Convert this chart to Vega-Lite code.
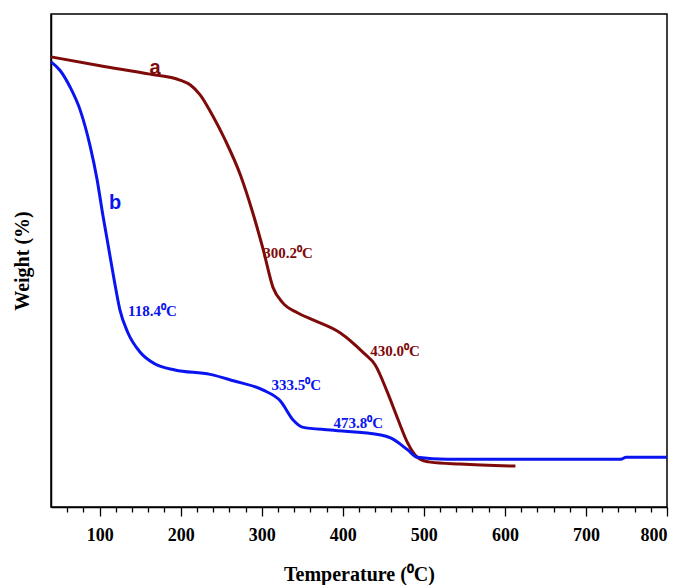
{
  "$schema": "https://vega.github.io/schema/vega-lite/v6.json",
  "width": 616,
  "height": 493,
  "autosize": "none",
  "padding": {"left": 51, "top": 14, "right": 17, "bottom": 78},
  "background": "white",
  "config": {
    "view": {"stroke": "black", "strokeWidth": 1.5},
    "axis": {"grid": false}
  },
  "datasets": {
    "curves": [
      {"series": "a", "T": 40, "w": 91.3},
      {"series": "a", "T": 100.6, "w": 89.5},
      {"series": "a", "T": 162, "w": 87.8},
      {"series": "a", "T": 199, "w": 86.6},
      {"series": "a", "T": 212, "w": 85.6},
      {"series": "a", "T": 224, "w": 83.6},
      {"series": "a", "T": 239, "w": 79.5},
      {"series": "a", "T": 255, "w": 74.4},
      {"series": "a", "T": 274, "w": 67.2},
      {"series": "a", "T": 288, "w": 60.2},
      {"series": "a", "T": 302, "w": 52.1},
      {"series": "a", "T": 314, "w": 44.5},
      {"series": "a", "T": 326, "w": 41.4},
      {"series": "a", "T": 344, "w": 39.4},
      {"series": "a", "T": 364, "w": 37.9},
      {"series": "a", "T": 397, "w": 35.3},
      {"series": "a", "T": 426, "w": 31.2},
      {"series": "a", "T": 440, "w": 28.8},
      {"series": "a", "T": 455, "w": 23.3},
      {"series": "a", "T": 468, "w": 17.8},
      {"series": "a", "T": 480, "w": 13.0},
      {"series": "a", "T": 492, "w": 10.1},
      {"series": "a", "T": 508, "w": 9.1},
      {"series": "a", "T": 545, "w": 8.7},
      {"series": "a", "T": 613, "w": 8.3},
      {"series": "b", "T": 40, "w": 90.3},
      {"series": "b", "T": 51, "w": 88.6},
      {"series": "b", "T": 63.5, "w": 85.2},
      {"series": "b", "T": 76, "w": 80.5},
      {"series": "b", "T": 88, "w": 73.4},
      {"series": "b", "T": 97, "w": 66.3},
      {"series": "b", "T": 104, "w": 59.2},
      {"series": "b", "T": 110.5, "w": 53.1},
      {"series": "b", "T": 118, "w": 46.0},
      {"series": "b", "T": 125, "w": 40.0},
      {"series": "b", "T": 135, "w": 35.3},
      {"series": "b", "T": 150, "w": 31.4},
      {"series": "b", "T": 168.5, "w": 29.0},
      {"series": "b", "T": 193, "w": 27.8},
      {"series": "b", "T": 236.5, "w": 26.9},
      {"series": "b", "T": 265, "w": 25.6},
      {"series": "b", "T": 302, "w": 23.7},
      {"series": "b", "T": 323, "w": 21.5},
      {"series": "b", "T": 339, "w": 17.6},
      {"series": "b", "T": 350, "w": 16.2},
      {"series": "b", "T": 385, "w": 15.6},
      {"series": "b", "T": 447, "w": 14.6},
      {"series": "b", "T": 459, "w": 14.0},
      {"series": "b", "T": 480, "w": 11.6},
      {"series": "b", "T": 492, "w": 10.1},
      {"series": "b", "T": 529, "w": 9.7},
      {"series": "b", "T": 657, "w": 9.7},
      {"series": "b", "T": 743, "w": 9.7},
      {"series": "b", "T": 749.5, "w": 10.1},
      {"series": "b", "T": 800, "w": 10.1}
    ],
    "letters": [
      {"series": "a", "label": "a", "T": 168.5, "w": 89.0},
      {"series": "b", "label": "b", "T": 119, "w": 61.7}
    ],
    "temps": [
      {"series": "a", "label": "300.2⁰C", "T": 302, "w": 51.5},
      {"series": "a", "label": "430.0⁰C", "T": 434, "w": 31.6},
      {"series": "b", "label": "118.4⁰C", "T": 135, "w": 39.8},
      {"series": "b", "label": "333.5⁰C", "T": 312, "w": 24.7},
      {"series": "b", "label": "473.8⁰C", "T": 388.5, "w": 17.0}
    ]
  },
  "layer": [
    {
      "data": {"name": "curves"},
      "mark": {"type": "line", "strokeWidth": 3, "interpolate": "monotone"},
      "encoding": {
        "x": {
          "field": "T", "type": "quantitative",
          "scale": {"domain": [40, 800], "nice": false, "zero": false},
          "axis": {
            "values": [60, 80, 100, 120, 140, 160, 180, 200, 220, 240, 260, 280, 300, 320, 340, 360, 380, 400, 420, 440, 460, 480, 500, 520, 540, 560, 580, 600, 620, 640, 660, 680, 700, 720, 740, 760, 780, 800],
            "tickCount": 60,
            "labelExpr": "datum.value % 100 === 0 ? datum.label : ''",
            "tickSize": {"expr": "datum.value % 100 === 0 ? 9 : 5"},
            "title": "Temperature (⁰C)",
            "titleFont": "Liberation Serif", "titleFontSize": 20, "titleFontWeight": "bold", "titleColor": "black",
            "titlePadding": 20,
            "labelFont": "Liberation Serif", "labelFontSize": 18, "labelFontWeight": "bold", "labelColor": "black",
            "labelPadding": 10,
            "labelOverlap": false,
            "tickColor": "black", "tickWidth": 1.3,
            "domainColor": "black", "domainWidth": 1.5
          }
        },
        "y": {
          "field": "w", "type": "quantitative",
          "scale": {"domain": [0, 100], "nice": false, "zero": false},
          "axis": {
            "title": "Weight (%)",
            "titleFont": "Liberation Serif", "titleFontSize": 20, "titleFontWeight": "bold", "titleColor": "black",
            "titlePadding": 19,
            "labels": false, "ticks": false,
            "domainColor": "black", "domainWidth": 1.5
          }
        },
        "color": {
          "field": "series", "type": "nominal",
          "scale": {"domain": ["a", "b"], "range": ["#7f0a0a", "#0a14f0"]},
          "legend": null
        }
      }
    },
    {
      "data": {"name": "letters"},
      "mark": {"type": "text", "font": "Liberation Sans", "fontSize": 20, "fontWeight": "bold", "align": "center", "baseline": "middle"},
      "encoding": {
        "x": {"field": "T", "type": "quantitative"},
        "y": {"field": "w", "type": "quantitative"},
        "text": {"field": "label"},
        "color": {"field": "series", "type": "nominal", "legend": null}
      }
    },
    {
      "data": {"name": "temps"},
      "mark": {"type": "text", "font": "Liberation Serif", "fontSize": 15, "fontWeight": "bold", "align": "left", "baseline": "middle"},
      "encoding": {
        "x": {"field": "T", "type": "quantitative"},
        "y": {"field": "w", "type": "quantitative"},
        "text": {"field": "label"},
        "color": {"field": "series", "type": "nominal", "legend": null}
      }
    }
  ]
}
